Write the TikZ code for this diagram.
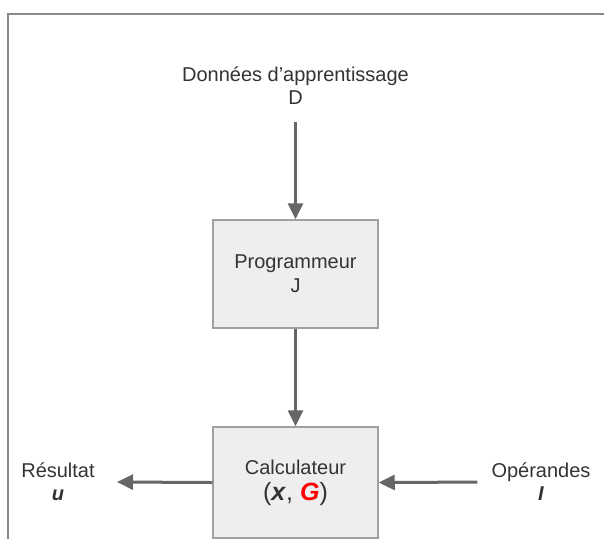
\documentclass[tikz,border=0pt]{standalone}
\usepackage{fontspec}
\setmainfont{Liberation Sans}
\usetikzlibrary{arrows.meta}
\definecolor{txt}{HTML}{333333}
\definecolor{arrc}{HTML}{666666}
\definecolor{boxfill}{HTML}{EEEEEE}
\definecolor{boxline}{HTML}{A0A0A0}
\definecolor{frame}{HTML}{8A8A8A}
\begin{document}
\begin{tikzpicture}[x=1pt,y=-1pt,
  lbl/.style={text=txt,align=center,font=\fontsize{20}{23}\selectfont,inner sep=0pt},
  blk/.style={draw=boxline,line width=1.5pt,fill=boxfill,minimum width=165pt,text=txt,align=center,font=\fontsize{20}{24}\selectfont,inner sep=0pt},
  arr/.style={draw=arrc,line width=3pt,-{Triangle[length=16pt,width=15pt]}}]
\useasboundingbox (0,0) rectangle (604,539);
\draw[frame,line width=1.5pt] (8,539) -- (8,14) -- (604,14);
\node[lbl] (data) at (295.5,86) {Données d’apprentissage\\D};
\node[blk,minimum height=108pt] (prog) at (295.5,274) {Programmeur\\J};
\node[blk,minimum height=111pt] (calc) at (295.5,482.5) {Calculateur\\[2pt]{\fontsize{25}{28}\selectfont(\textbf{\textit{x}}, \textcolor{red}{\textbf{\textit{G}}})}};
\node[lbl] (res) at (58,482) {Résultat\\\textbf{\textit{u}}};
\node[lbl] (ops) at (541,482) {Opérandes\\\textbf{\textit{I}}};
\draw[arr,shorten <=17pt] (data.south) -- (prog.north);
\draw[arr] (prog.south) -- (calc.north);
\draw[arr] (calc.west) -- (117,482);
\draw[arr,shorten <=14pt] (ops.west) -- (calc.east);
\end{tikzpicture}
\end{document}
